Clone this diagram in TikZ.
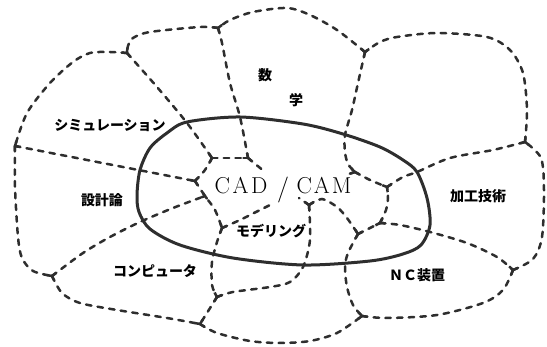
\documentclass[tikz,border=0pt]{standalone}
\usepackage{fontspec}
\newfontfamily\jp{Noto Sans CJK JP}
\definecolor{ink}{HTML}{2E2E2E}
\tikzset{
  dline/.style={draw=ink, line width=2.5pt, dash pattern=on 5.5pt off 6.2pt, line cap=round},
  sline/.style={draw=ink, line width=2.5pt, line cap=round},
  rim/.style={draw=ink, line width=3pt},
  lab/.style={font={\jp\bfseries\fontsize{14}{16}\selectfont}, inner sep=0pt, text=black},
  big/.style={font={\fontsize{23}{26}\selectfont}, inner sep=0pt, text=black},
}
\newcommand\netlines[1]{%
  % outer boundary
  \draw[#1] plot[smooth] coordinates {(A) (15,187) (18,237) (22,258) (33,271) (B)};
  \draw[#1] plot[smooth] coordinates {(B) (62,293) (80,303) (117,310) (167,318) (C)};
  \draw[#1] plot[smooth] coordinates {(C) (217,333) (250,341) (280,343) (310,341) (337,333) (D)};
  \draw[#1] plot[smooth] coordinates {(D) (387,318) (437,315) (483,303) (503,290) (E)};
  \draw[#1] plot[smooth] coordinates {(E) (533,259) (542,237) (544,190) (541,158) (F)};
  \draw[#1] plot[smooth] coordinates {(F) (527,110) (523,73) (510,50) (487,37) (437,33) (397,37) (380,42) (G)};
  \draw[#1] plot[smooth] coordinates {(G) (337,30) (310,15) (287,8) (253,12) (230,20) (H)};
  \draw[#1] plot[smooth] coordinates {(H) (200,27) (150,32) (133,38) (128,46) (I)};
  \draw[#1] plot[smooth] coordinates {(I) (110,52) (90,53) (73,62) (50,83) (27,113) (A)};
  % inner lines
  \draw[#1] plot[smooth] coordinates {(H) (222,43) (230,83) (240,117) (J1)};
  \draw[#1] plot[smooth] coordinates {(I) (157,87) (187,123) (J2)};
  \draw[#1] (J2) -- (J1);
  \draw[#1] plot[smooth] coordinates {(J2) (205,170) (J3)};
  \draw[#1] (A) -- (J3);
  \draw[#1] plot[smooth] coordinates {(J3) (M1) (215,210) (J4)};
  \draw[#1] plot[smooth] coordinates {(B) (83,253) (110,237) (140,222) (173,208) (M1)};
  \draw[#1] (J1) -- (J1e);
  \draw[#1] plot[smooth] coordinates {(J4) (240,220) (258,211) (J4e)};
  \draw[#1] plot[smooth] coordinates {(J4) (217,242) (212,262) (212,285) (J5)};
  \draw[#1] plot[smooth] coordinates {(J5) (C)};
  \draw[#1] plot[smooth] coordinates {(J5) (233,292) (270,287) (290,282) (303,267) (310,240) (J6)};
  \draw[#1] (J6) -- (J6e);
  \draw[#1] plot[smooth] coordinates {(J6) (322,199) (337,207) (347,218) (J7)};
  \draw[#1] plot[smooth] coordinates {(J7) (348,253) (345,267) (347,287) (353,305) (D)};
  \draw[#1] (J7) -- (K);
  \draw[#1] plot[smooth] coordinates {(K) (400,225) (430,232) (467,243) (497,257) (E)};
  \draw[#1] plot[smooth] coordinates {(K) (386,210) (388,198) (J8)};
  \draw[#1] plot[smooth] coordinates {(J8) (403,177) (417,172) (450,158) (493,150) (F)};
  \draw[#1] plot[smooth] coordinates {(G) (358,83) (352,110) (345,135) (345,152) (348,164) (J9)};
  \draw[#1] plot[smooth] coordinates {(J9) (370,180) (J8)};
  \draw[#1] (J9) -- (J9e);
}
\begin{document}
\begin{tikzpicture}[x=1pt,y=-1pt]
\useasboundingbox (0,0) rectangle (547,347);
% junctions
\coordinate (A) at (15,146);
\coordinate (B) at (52,276);
\coordinate (C) at (200,324);
\coordinate (D) at (362,316);
\coordinate (E) at (513,270);
\coordinate (F) at (525,142);
\coordinate (G) at (365,52);
\coordinate (H) at (218,28);
\coordinate (I) at (127,53);
\coordinate (J1) at (248,158);
\coordinate (J2) at (212,158);
\coordinate (J3) at (195,181);
\coordinate (M1) at (205,196);
\coordinate (J4) at (222,228);
\coordinate (J5) at (217,297);
\coordinate (J6) at (309,205);
\coordinate (J7) at (358,234);
\coordinate (K) at (380,223);
\coordinate (J8) at (387,187);
\coordinate (J9) at (355,172);
\coordinate (J1e) at (265,172);
\coordinate (J4e) at (272,204);
\coordinate (J6e) at (299,198);
\coordinate (J9e) at (349,174);
% central solid loop
\draw[rim] plot[smooth cycle] coordinates {(137,195) (140,170) (150,148) (167,133) (187,122) (240,117) (303,124) (343,134) (380,147) (403,160) (417,172) (427,198) (430,225) (421,245) (403,254) (370,261) (303,265) (233,258) (180,245) (150,229) (139,212)};
% dashed network
\netlines{dline}
\begin{scope}
  \clip (A) circle (5.5pt) (B) circle (5.5pt) (C) circle (5.5pt) (D) circle (5.5pt)
        (E) circle (5.5pt) (F) circle (5.5pt) (G) circle (5.5pt) (H) circle (5.5pt)
        (I) circle (5.5pt) (J1) circle (5.5pt) (J2) circle (5.5pt) (J3) circle (5.5pt)
        (J4) circle (5.5pt) (J5) circle (5.5pt) (J6) circle (5.5pt) (J7) circle (5.5pt)
        (K) circle (5.5pt) (J8) circle (5.5pt) (J9) circle (5.5pt) (M1) circle (4pt);
  \netlines{sline}
\end{scope}
% labels
\node[lab] (sim) at (110,125) {シミュレーション};
\node[lab] (su) at (265,75) {数};
\node[lab] (gaku) at (296,100) {学};
\node[lab] (sek) at (102,200) {設計論};
\node[lab] (com) at (155,271) {コンピュータ};
\node[lab] (mod) at (271,231) {モデリング};
\node[lab] (kak) at (478,196) {加工技術};
\node[lab] (nc) at (417,275) {ＮＣ装置};
\node[big] (cad) at (241,186) {C\kern2.5pt A\kern2.5pt D};
\node[big] (sl) at (283,190) {\fontsize{26}{28}\selectfont /};
\node[big] (cam) at (324,186) {C\kern2pt A\kern2pt M};
\end{tikzpicture}
\end{document}
